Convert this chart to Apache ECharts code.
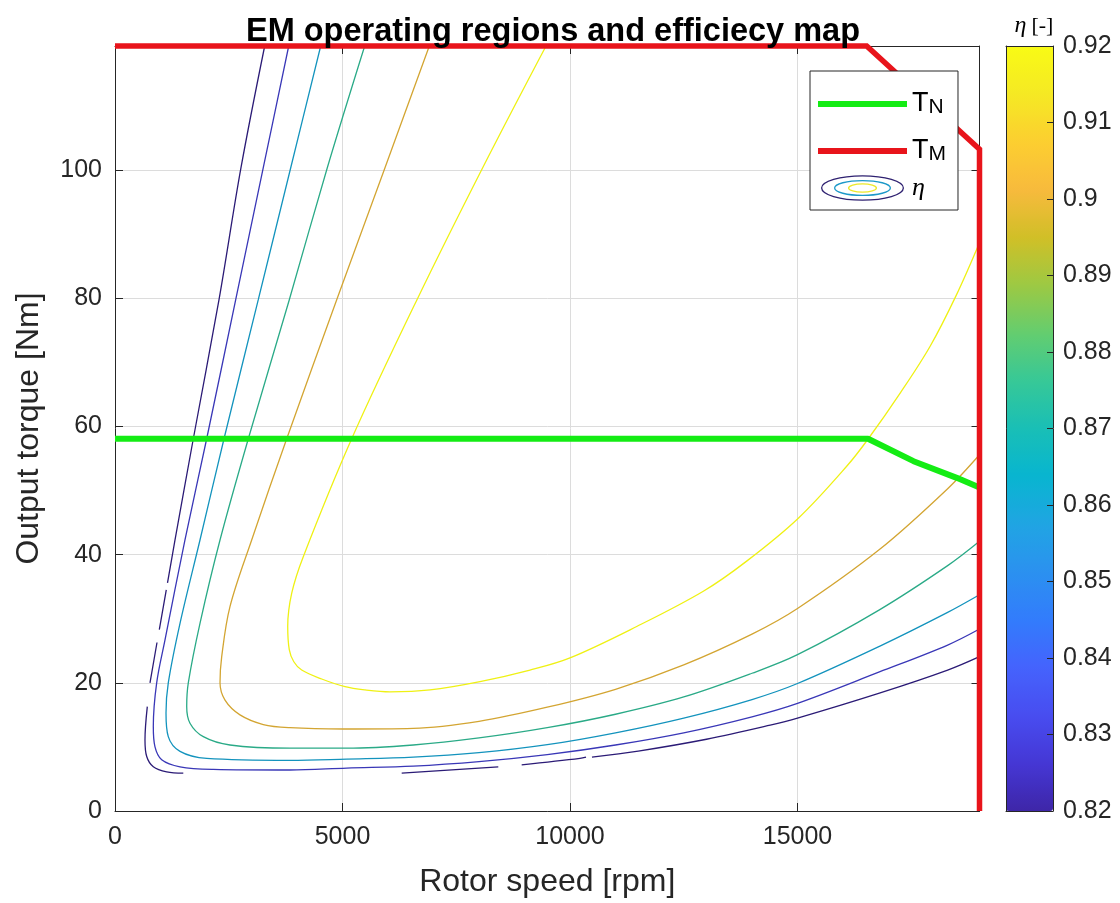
<!DOCTYPE html>
<html><head><meta charset="utf-8">
<script src="https://cdn.jsdelivr.net/npm/echarts@6/dist/echarts.min.js"></script>
<style>html,body{margin:0;padding:0;background:#fff}#c{width:1120px;height:903px}</style>
</head><body><div id="c"></div>
<script>
// ---------- data ----------
const speedMax = 19000;
const torqueMax = 119.4;
const etaMin = 0.82, etaMax = 0.92;
const speedTickStep = 5000;
const torqueTickStep = 20;
const etaTickStep = 0.01;

// contour levels (efficiency)
const levels = [0.82, 0.83, 0.86, 0.875, 0.90, 0.92];

// contour lines: [rotor speed rpm, torque Nm]; null = break in the contour
const contour082 = [[3290,119.4],[2769,100.4],[2286,79.8],[1721,58.1],[1319,42.3],[1154,35.6],null,[1127,34.5],[974,28.3],null,[923,26.3],[769,20.0],null,[710,16.3],[659,11.1],[697,8.5],[842,6.9],[1136,6.1],[1501,5.9],null,[6301,5.9],[8424,6.9],null,[8938,7.2],[10220,8.2],[10352,8.4],null,[10483,8.4],[11500,9.35],[13000,11.2],[14400,13.4],[15000,14.5],[16800,18.4],[18300,22.0],[19000,24.1]];
const contour083 = [[3818,119.4],[3259,100.4],[2653,79.8],[2015,58.1],[1538,42.3],[1099,26.7],[916,20.0],[842,13.2],[879,10.0],[1026,8.0],[1429,6.9],[2160,6.5],[3846,6.4],[5092,6.7],[6556,7.0],[8000,7.7],[9500,8.8],[11000,10.3],[12500,12.2],[14000,14.7],[15000,16.8],[16800,21.7],[18300,25.9],[19000,28.4]];
const contour086 = [[4521,119.4],[3862,100.4],[3149,79.8],[2396,58.1],[1868,42.3],[1429,29.3],[1171,20.0],[1121,15.3],[1171,11.6],[1429,9.3],[2015,8.2],[3846,7.9],[5092,8.1],[6556,8.4],[8000,9.1],[9500,10.35],[11000,12.2],[12500,14.5],[14000,17.4],[15000,19.9],[16800,25.7],[18300,31.0],[19000,33.75]];
const contour0875 = [[5488,119.4],[4666,100.4],[3831,79.8],[2930,58.1],[2308,42.3],[1868,29.3],[1611,20.0],[1576,16.3],[1648,13.7],[1941,11.6],[2527,10.3],[3846,9.8],[5092,9.8],[6556,10.3],[8000,11.4],[9500,13.0],[11000,15.1],[12500,17.8],[14000,21.5],[15000,24.4],[16800,31.4],[18300,38.3],[19000,42.1]];
const contour090 = [[6908,119.4],[5934,100.4],[4873,79.8],[3774,58.1],[3004,42.3],[2527,31.9],[2345,24.1],[2308,20.0],[2418,17.3],[2747,15.0],[3259,13.5],[3846,13.0],[5018,12.8],[6556,12.9],[8000,14.0],[9500,16.2],[11000,19.0],[12500,22.8],[14000,27.6],[15000,31.6],[16800,40.8],[18300,50.3],[19000,55.6]];
const contour092 = [[9473,119.4],[8081,100.4],[6637,79.8],[5202,58.1],[4138,39.7],[3884,34.0],[3796,28.8],[3830,25.2],[3930,23.3],[4103,22.0],[4543,20.6],[5055,19.4],[5494,18.9],[6044,18.6],[6923,18.9],[8022,20.2],[9121,22.0],[10000,23.9],[11466,28.8],[12930,34.3],[13883,39.0],[15018,45.7],[16081,53.8],[16556,58.1],[17264,65.3],[17912,72.5],[18483,80.4],[19000,88.7]];
const contours = [contour082, contour083, contour086, contour0875, contour090, contour092];

// nominal torque T_N and maximum torque T_M
const tnSpeed  = [0, 16550, 17550, 18500, 19000];
const tnTorque = [58.1, 58.1, 54.6, 52.0, 50.5];
const tmSpeed  = [0, 16520, 19000, 19000];
const tmTorque = [119.4, 119.4, 103.3, 0];

// ---------- style ----------
const FONT = '"Liberation Sans", Arial, Helvetica, sans-serif';
const SERIF = '"Liberation Serif", "DejaVu Serif", serif';
const AX = '#262626';
const parula = ['#3e26a8','#4537d5','#484df0','#4563fd','#327cfc','#2b91ef','#20a5e3','#08b5d0','#19bfb6','#37c897','#64cd6f','#9dc943','#d1bf27','#f8ba3d','#fccf30','#f5e924','#f9fb15'];
const lineShade = [0.7, 0.8, 0.86, 0.86, 0.88, 0.96];
function hex2rgb(h){return [parseInt(h.slice(1,3),16),parseInt(h.slice(3,5),16),parseInt(h.slice(5,7),16)];}
function parulaColor(v, k){
  let t = (v - etaMin) / (etaMax - etaMin);
  t = Math.max(0, Math.min(1, t)) * (parula.length - 1);
  const i = Math.min(parula.length - 2, Math.floor(t)), f = t - i;
  const a = hex2rgb(parula[i]), b = hex2rgb(parula[i+1]);
  return 'rgb(' + a.map((c,j)=>Math.round((c + (b[j]-c)*f) * k)).join(',') + ')';
}

const etaIcon = 'image://data:image/svg+xml;charset=utf-8,' + encodeURIComponent(
  "<svg xmlns='http://www.w3.org/2000/svg' width='90' height='28' viewBox='0 0 90 28'>" +
  "<ellipse cx='45' cy='14' rx='44' ry='13' fill='none' stroke='#2e2070' stroke-width='1.4'/>" +
  "<ellipse cx='45' cy='14' rx='30' ry='8' fill='none' stroke='#1c98c8' stroke-width='1.4'/>" +
  "<ellipse cx='45' cy='14' rx='15' ry='4.5' fill='none' stroke='#ece82a' stroke-width='1.4'/></svg>");

const series = [];
contours.forEach((c, i) => {
  const col = parulaColor(levels[i], lineShade[i]);
  series.push({
    type: 'line', name: 'η', xAxisIndex: 0, yAxisIndex: 0,
    data: c, showSymbol: false, symbol: 'none', smooth: 0.35, connectNulls: false,
    lineStyle: { width: 1.3, color: col }, itemStyle: { color: col },
    silent: true, z: 2
  });
});
series.push({
  type: 'line', name: 'T_N', xAxisIndex: 0, yAxisIndex: 0,
  data: tnSpeed.map((s, i) => [s, tnTorque[i]]), showSymbol: false, symbol: 'none',
  lineStyle: { width: 6, color: '#14ec14' }, itemStyle: { color: '#14ec14' }, silent: true, z: 3, clip: false
});
series.push({
  type: 'line', name: 'T_M', xAxisIndex: 0, yAxisIndex: 0,
  data: tmSpeed.map((s, i) => [s, tmTorque[i]]), showSymbol: false, symbol: 'none',
  lineStyle: { width: 5.5, color: '#e8141b', join: 'miter' }, itemStyle: { color: '#e8141b' }, silent: true, z: 4, clip: false
});

const baseAxis = {
  axisLine: { show: true, onZero: false, lineStyle: { color: AX, width: 1 } },
  axisTick: { show: true, inside: true, length: 8, lineStyle: { color: AX, width: 1 } },
  splitLine: { show: false }
};

const option = {
  animation: false,
  backgroundColor: '#fff',
  title: [
    { text: 'EM operating regions and efficiecy map', left: 548, top: 11, textAlign: 'center',
      textStyle: { fontFamily: FONT, fontSize: 32.5, fontWeight: 'bold', color: '#000' } },
    { text: '{i|η} {n|[-]}', left: 1029, top: 9, textAlign: 'center',
      textStyle: { fontWeight: 'normal', rich: {
        i: { fontFamily: SERIF, fontStyle: 'italic', fontWeight: 'normal', fontSize: 24, color: '#000' },
        n: { fontFamily: SERIF, fontWeight: 'normal', fontSize: 22, color: '#000' } } } }
  ],
  grid: [
    { left: 115, top: 46, width: 864.5, height: 765, containLabel: false },
    { left: 1006, top: 46, width: 47, height: 765, containLabel: false }
  ],
  legend: {
    orient: 'vertical', left: 810, top: 71,
    data: [
      { name: 'T_N', icon: 'path://M0,0H89V6H0Z' },
      { name: 'T_M', icon: 'path://M0,0H89V6H0Z' },
      { name: 'η', icon: etaIcon }
    ],
    itemWidth: 89, itemHeight: 26, itemGap: 10,
    padding: [10, 12, 9, 8],
    backgroundColor: '#fff', borderColor: AX, borderWidth: 1, borderRadius: 0,
    selectedMode: false, z: 20,
    formatter: function (n) {
      if (n === 'T_N') return '{t|T}{s|N}';
      if (n === 'T_M') return '{t|T}{s|M}';
      return '{e|η}';
    },
    textStyle: {
      color: '#000',
      rich: {
        t: { fontFamily: FONT, fontSize: 27, lineHeight: 28, verticalAlign: 'top', color: '#000' },
        s: { fontFamily: FONT, fontSize: 21, lineHeight: 22, verticalAlign: 'bottom', padding: [16, 0, 0, 0], color: '#000' },
        e: { fontFamily: SERIF, fontStyle: 'italic', fontSize: 26, color: '#000' }
      }
    }
  },
  visualMap: {
    type: 'continuous', seriesIndex: [], min: etaMin, max: etaMax,
    orient: 'vertical', left: 1006, top: 46, itemWidth: 47, itemHeight: 765,
    padding: 0, calculable: false, hoverLink: false, text: null, showLabel: false,
    inRange: { color: parula }, z: 1
  },
  xAxis: [
    Object.assign({}, baseAxis, {
      gridIndex: 0, type: 'value', position: 'bottom', min: 0, max: speedMax, interval: speedTickStep,
      axisLabel: { show: true, fontFamily: FONT, fontSize: 25, color: AX, margin: 14, showMaxLabel: false,
        formatter: v => String(v) },
      splitLine: { show: true, lineStyle: { color: '#dcdcdc', width: 1 } },
      name: 'Rotor speed [rpm]', nameLocation: 'middle', nameGap: 55,
      nameTextStyle: { fontFamily: FONT, fontSize: 32, color: AX }
    }),
    Object.assign({}, baseAxis, {
      gridIndex: 0, type: 'value', position: 'top', min: 0, max: speedMax, interval: speedTickStep,
      axisLabel: { show: false }
    }),
    { gridIndex: 1, type: 'value', position: 'bottom', min: 0, max: 1, z: 10,
      axisLine: { show: true, onZero: false, lineStyle: { color: AX, width: 1 } },
      axisTick: { show: false }, axisLabel: { show: false }, splitLine: { show: false } },
    { gridIndex: 1, type: 'value', position: 'top', min: 0, max: 1, z: 10,
      axisLine: { show: true, onZero: false, lineStyle: { color: AX, width: 1 } },
      axisTick: { show: false }, axisLabel: { show: false }, splitLine: { show: false } }
  ],
  yAxis: [
    Object.assign({}, baseAxis, {
      gridIndex: 0, type: 'value', position: 'left', min: 0, max: torqueMax, interval: torqueTickStep,
      axisLabel: { show: true, fontFamily: FONT, fontSize: 25, color: AX, margin: 13, showMaxLabel: false },
      splitLine: { show: true, lineStyle: { color: '#dcdcdc', width: 1 } },
      name: 'Output torque [Nm]', nameLocation: 'middle', nameGap: 70, nameRotate: 90,
      nameTextStyle: { fontFamily: FONT, fontSize: 32, color: AX }
    }),
    Object.assign({}, baseAxis, {
      gridIndex: 0, type: 'value', position: 'right', min: 0, max: torqueMax, interval: torqueTickStep,
      axisLabel: { show: false }
    }),
    { gridIndex: 1, type: 'value', position: 'right', min: etaMin, max: etaMax, interval: etaTickStep, z: 10,
      axisLine: { show: true, onZero: false, lineStyle: { color: AX, width: 1 } },
      axisTick: { show: true, inside: true, length: 6, lineStyle: { color: AX } },
      axisLabel: { show: true, fontFamily: FONT, fontSize: 25, color: AX, margin: 10 },
      splitLine: { show: false } },
    { gridIndex: 1, type: 'value', position: 'left', min: etaMin, max: etaMax, interval: etaTickStep, z: 10,
      axisLine: { show: true, onZero: false, lineStyle: { color: AX, width: 1 } },
      axisTick: { show: false }, axisLabel: { show: false }, splitLine: { show: false } }
  ],
  series: series
};

const chart = echarts.init(document.getElementById('c'), null, { renderer: 'canvas' });
chart.setOption(option);
</script>
</body></html>
